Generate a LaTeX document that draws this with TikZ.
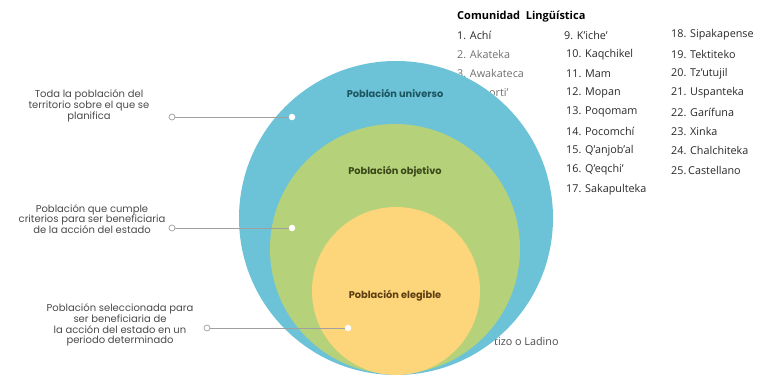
\documentclass[tikz,border=0pt]{standalone}
\usepackage{fontspec}
\setmainfont{Open Sans}
\newfontfamily\pop{Poppins}
\definecolor{cblue}{RGB}{108,194,214}
\definecolor{cgreen}{RGB}{181,210,122}
\definecolor{cyellow}{RGB}{253,213,122}
\definecolor{tblue}{RGB}{28,84,96}
\definecolor{tgreen}{RGB}{58,72,26}
\definecolor{tyellow}{RGB}{92,62,18}
\definecolor{desc}{RGB}{75,75,75}
\definecolor{lst}{RGB}{40,40,40}
\definecolor{conn}{RGB}{160,160,160}
\tikzset{
  ring/.style={circle, inner sep=0pt, draw=none},
  desctext/.style={align=center, font=\pop\fontsize{10}{10.8}\selectfont, text=desc, inner sep=0pt},
  ringlabel/.style={font=\pop\bfseries\fontsize{9.8}{11}\selectfont, inner sep=0pt},
  opendot/.style={circle, draw=conn, fill=white, line width=0.7pt, minimum size=6pt, inner sep=0pt},
  wdot/.style={circle, fill=white, minimum size=6.5pt, inner sep=0pt},
  connline/.style={draw=conn, line width=0.7pt},
  item/.style={anchor=west, inner sep=0pt, font=\fontsize{10.8}{12}\selectfont, text=lst},
}
\begin{document}
\begin{tikzpicture}[x=1pt,y=-1pt]
\useasboundingbox (0,0) rectangle (762,385);
% list under the circles
\node[item, font=\bfseries\fontsize{11}{12}\selectfont, text=black] (title) at (457,17) {Comunidad\ \ Lingüística};
\node[item] (l1) at (457,35) {1. Achí};
\node[item, text=desc!80] (l2) at (457,54.3) {2. Akateka};
\node[item, text=desc!80] (l3) at (457,73.6) {3. Awakateca};
\node[item, text=desc!80] (l4) at (489,92.9) {orti'};
\node[item] (l9) at (564,35) {9. K'iche'};
\node[item] (l10) at (566,54.3) {10. Kaqchikel};
\node[item] (l11) at (566,73.6) {11. Mam};
\node[item] (l12) at (566,92.9) {12. Mopan};
\node[item] (l13) at (566,112.2) {13. Poqomam};
\node[item] (l14) at (566,131.5) {14. Pocomchí};
\node[item] (l15) at (566,150.8) {15. Q'anjob'al};
\node[item] (l16) at (566,170.1) {16. Q'eqchi'};
\node[item] (l17) at (566,189.4) {17. Sakapulteka};
\node[item] (l18) at (671,35) {18. Sipakapense};
\node[item] (l19) at (671,54.3) {19. Tektiteko};
\node[item] (l20) at (671,73.6) {20. Tz'utujil};
\node[item] (l21) at (671,92.9) {21. Uspanteka};
\node[item] (l22) at (671,112.2) {22. Garífuna};
\node[item] (l23) at (671,131.5) {23. Xinka};
\node[item] (l24) at (671,150.8) {24. Chalchiteka};
\node[item] (l25) at (671,170.1) {25.\,Castellano};
\node[item, text=desc] (l26) at (494,341) {tizo o Ladino};
% circles
\node[ring, fill=cblue, minimum size=314pt] (U) at (396,218) {};
\node[ring, fill=cgreen, minimum size=250pt] (O) at (395,249) {};
\node[ring, fill=cyellow, minimum size=168pt] (E) at (396,291) {};
\node[ringlabel, text=tblue] (Ul) at (395,93) {Población universo};
\node[ringlabel, text=tgreen] (Ol) at (395,172) {Población objetivo};
\node[ringlabel, text=tyellow] (El) at (395,296) {Población elegible};
% descriptions
\node[desctext] (t1) at (89,106) {Toda la población del\\territorio sobre el que se\\planifica};
\node[desctext] (t2) at (92,219) {Población que cumple\\criterios para ser beneficiaria\\de la acción del estado};
\node[desctext] (t3) at (120,325) {Población seleccionada para\\ser beneficiaria de\\la acción del estado en un\\periodo determinado};
% connectors
\node[opendot] (o1) at (172,117) {};
\node[opendot] (o2) at (172,228) {};
\node[opendot] (o3) at (207,328) {};
\node[wdot] (d1) at (292,117) {};
\node[wdot] (d2) at (292,228) {};
\node[wdot] (d3) at (348,328) {};
\draw[connline] (o1) -- (d1);
\draw[connline] (o2) -- (d2);
\draw[connline] (o3) -- (d3);
\end{tikzpicture}
\end{document}
